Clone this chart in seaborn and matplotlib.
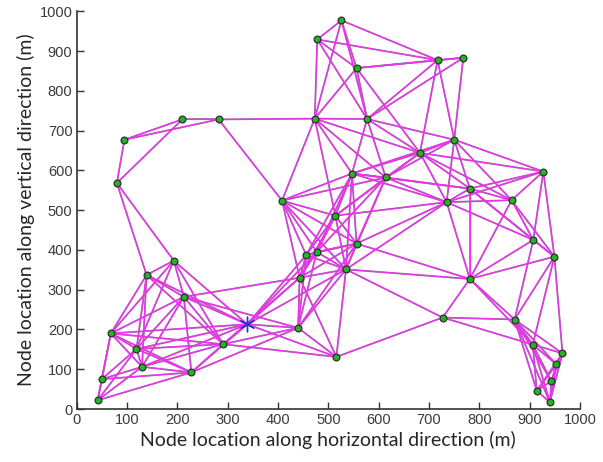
import numpy as np
import pandas as pd
import matplotlib
matplotlib.use("Agg")
import matplotlib.pyplot as plt
from matplotlib.collections import LineCollection
import seaborn as sns

# Sensor node coordinates (m), nodes 0..48
node_x = [42, 50, 68, 119, 130, 228, 139, 193, 213, 291,
          440, 443, 456, 477, 408, 80, 95, 210, 282, 526,
          478, 556, 717, 768, 473, 577, 750, 682, 927, 547,
          614, 781, 864, 735, 514, 556, 535, 516, 727, 781,
          907, 949, 870, 906, 965, 953, 943, 914, 940]
node_y = [22, 75, 190, 151, 106, 92, 337, 373, 282, 163,
          204, 330, 387, 395, 524, 568, 677, 728, 728, 977,
          929, 857, 877, 883, 730, 729, 677, 644, 597, 592,
          582, 554, 525, 520, 486, 416, 351, 131, 230, 327,
          425, 383, 225, 162, 140, 112, 70, 46, 17]
# Sink position (m), referred to as node 49 in the link lists
sink_x = [339]
sink_y = [213]

# Radio links between nodes (pairs of node numbers)
link_from = [0, 0, 0, 0, 0, 1, 1, 1, 1, 2, 2, 2, 2, 2, 2, 2, 2,
             3, 3, 3, 3, 3, 3, 3, 4, 4, 4, 4, 4, 5, 5, 5, 5,
             6, 6, 6, 6, 6, 7, 7, 7, 7, 8, 8, 8, 8, 9, 9, 9, 9,
             10, 10, 10, 10, 10, 10, 10,
             11, 11, 11, 11, 11, 11, 11, 11,
             12, 12, 12, 12, 12, 12, 12,
             13, 13, 13, 13, 13, 13, 13,
             14, 14, 14, 14, 14, 14, 14,
             15, 15, 16, 16, 17, 18,
             19, 19, 19, 19, 19, 20, 20, 20, 20,
             21, 21, 21, 21, 21, 22, 22, 22, 22, 23, 23,
             24, 24, 24, 24, 24, 25, 25, 25, 25,
             26, 26, 26, 26, 26, 26, 26,
             27, 27, 27, 27, 27, 27, 27,
             28, 28, 28, 28, 28,
             29, 29, 29, 29, 29, 29,
             30, 30, 30, 30, 30,
             31, 31, 31, 31, 31, 32, 32, 32, 32,
             33, 33, 33, 33, 33, 34, 34, 35, 35,
             36, 36, 36, 36, 37, 37,
             38, 38, 38, 39, 39, 39, 39, 40, 40, 41, 41, 41,
             42, 42, 42, 42, 42, 42, 43, 43, 43, 43, 43,
             44, 44, 44, 44, 45, 45, 45, 46, 46, 47]
link_to = [1, 2, 3, 4, 5, 2, 3, 4, 5, 3, 4, 5, 6, 7, 8, 9, 49,
           4, 5, 6, 7, 8, 9, 49, 5, 6, 8, 9, 49, 8, 9, 10, 49,
           7, 8, 9, 15, 49, 8, 9, 15, 49, 9, 10, 11, 49, 10, 11, 37, 49,
           11, 12, 13, 35, 36, 37, 49,
           12, 13, 14, 34, 35, 36, 37, 49,
           13, 14, 29, 34, 35, 36, 49,
           14, 29, 30, 34, 35, 36, 49,
           18, 24, 29, 30, 34, 35, 36,
           16, 17, 17, 18, 18, 24,
           20, 21, 22, 24, 25, 21, 22, 24, 25,
           22, 23, 24, 25, 27, 23, 25, 26, 27, 25, 26,
           25, 27, 29, 30, 34, 26, 27, 29, 30,
           27, 28, 29, 30, 31, 32, 33,
           28, 29, 30, 31, 32, 33, 34,
           31, 32, 33, 40, 41,
           30, 31, 33, 34, 35, 36,
           31, 33, 34, 35, 36,
           32, 33, 39, 40, 41, 33, 39, 40, 41,
           34, 35, 39, 40, 36, 35, 36, 36, 39,
           37, 38, 39, 49, 38, 49,
           39, 42, 43, 40, 41, 42, 43, 41, 42, 42, 43, 44,
           43, 44, 45, 46, 47, 48, 44, 45, 46, 47, 48,
           45, 46, 47, 48, 46, 47, 48, 47, 48, 48]

sns.set_theme(style="white")
plt.rcParams['font.family'] = ['Liberation Sans', 'DejaVu Sans']

fig = plt.figure(figsize=(6.03, 4.62), dpi=100)
ax = fig.add_axes([0.127, 0.1147, 0.835, 0.861])

px = node_x + sink_x
py = node_y + sink_y
segs = [[(px[a], py[a]), (px[b], py[b])] for a, b in zip(link_from, link_to)]
ax.add_collection(LineCollection(segs, colors='#a070a8', linewidths=1.3, zorder=1))
ax.add_collection(LineCollection(segs, colors='#f030f0', linewidths=0.85, zorder=2))

nodes = pd.DataFrame({"x": node_x, "y": node_y})
sns.scatterplot(data=nodes, x="x", y="y", ax=ax, s=24, color='#22b422',
                edgecolor='#303030', linewidth=0.9, zorder=3, legend=False)
sink = pd.DataFrame({"x": sink_x, "y": sink_y})
sns.scatterplot(data=sink, x="x", y="y", ax=ax, marker=(6, 2, 0), s=110,
                color='#2233dd', linewidth=1.0, zorder=4, legend=False)

ax.set_xlim(0, 1000)
ax.set_ylim(0, 1000)
ax.set_xticks(np.arange(0, 1001, 100))
ax.set_yticks(np.arange(0, 1001, 100))
for s in ['top', 'right']:
    ax.spines[s].set_visible(False)
for s in ['left', 'bottom']:
    ax.spines[s].set_color('#333333')
    ax.spines[s].set_linewidth(1.2)
ax.tick_params(direction='in', length=5, width=1, color='#333333', labelsize=10.5,
               labelcolor='#3a3a3a', bottom=True, left=True, pad=3)
ax.set_xlabel("Node location along horizontal direction (m)", fontsize=14,
              family=['Lato', 'DejaVu Sans'], labelpad=3)
ax.set_ylabel("Node location along vertical direction (m)", fontsize=14,
              family=['Lato', 'DejaVu Sans'], labelpad=3)
ax.grid(False)

fig.savefig("out.png", dpi=100)
